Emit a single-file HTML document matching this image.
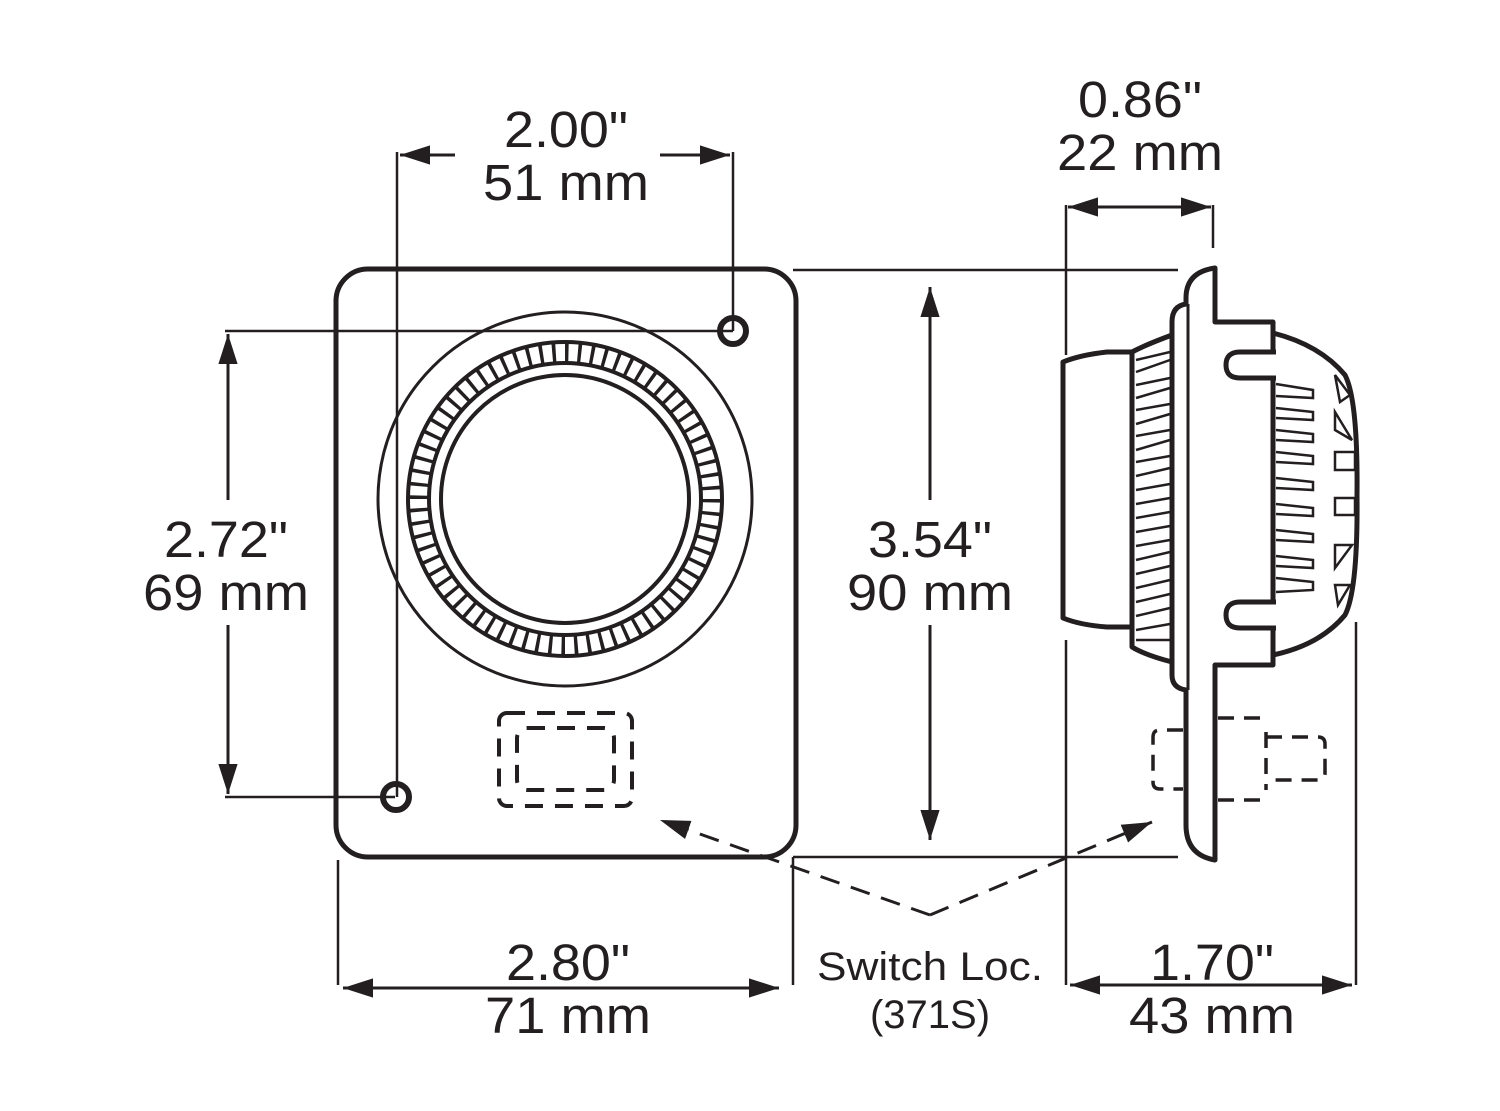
<!DOCTYPE html>
<html><head><meta charset="utf-8"><style>
html,body{margin:0;padding:0;background:#fff;}
svg{display:block}
text{font-family:"Liberation Sans",Arial,sans-serif;fill:#231f20;}
</style></head><body>
<svg width="1500" height="1111" viewBox="0 0 1500 1111" xmlns="http://www.w3.org/2000/svg">
<defs>
<marker id="ar" viewBox="0 0 10 10" refX="10" refY="5" markerWidth="30" markerHeight="30" markerUnits="userSpaceOnUse" orient="auto">
<path d="M0,1.8 L10,5 L0,8.2 Z" fill="#231f20"/></marker>
</defs>
<g stroke="#231f20" fill="none">
<rect x="336" y="269" width="460" height="588" rx="32" stroke-width="5"/>
<circle cx="733" cy="331" r="13" stroke-width="6"/>
<circle cx="396" cy="797" r="13" stroke-width="6"/>
<circle cx="565" cy="499" r="187" stroke-width="3"/>
<circle cx="565" cy="499" r="157" stroke-width="4"/>
<circle cx="565" cy="499" r="136" stroke-width="4"/>
<circle cx="565" cy="499" r="124" stroke-width="4"/>
<circle cx="565" cy="499" r="146.5" stroke-width="19" stroke-dasharray="3.5 9.28"/>
<rect x="499" y="713" width="133" height="93" rx="8" stroke-width="4" stroke-dasharray="18 12"/>
<rect x="517" y="728" width="97" height="62" rx="10" stroke-width="4" stroke-dasharray="18 12"/>

<g stroke-width="2.5">
<line x1="397" y1="152" x2="397" y2="797"/>
<line x1="733" y1="152" x2="733" y2="331"/>
<line x1="225" y1="331" x2="733" y2="331"/>
<line x1="225" y1="797" x2="395" y2="797"/>
<line x1="793" y1="270" x2="1178" y2="270"/>
<line x1="793" y1="857" x2="1178" y2="857"/>
<line x1="1066" y1="205" x2="1066" y2="355"/>
<line x1="1066" y1="640" x2="1066" y2="985"/>
<line x1="1213" y1="205" x2="1213" y2="248"/>
<line x1="338" y1="860" x2="338" y2="985"/>
<line x1="793" y1="857" x2="793" y2="985"/>
<line x1="1356" y1="622" x2="1356" y2="985"/>
</g>
<g stroke-width="3">
<line x1="455" y1="155" x2="400" y2="155" marker-end="url(#ar)"/>
<line x1="660" y1="155" x2="730" y2="155" marker-end="url(#ar)"/>
<line x1="228" y1="500" x2="228" y2="334" marker-end="url(#ar)"/>
<line x1="228" y1="625" x2="228" y2="794" marker-end="url(#ar)"/>
<line x1="930" y1="500" x2="930" y2="287" marker-end="url(#ar)"/>
<line x1="930" y1="625" x2="930" y2="840" marker-end="url(#ar)"/>
<line x1="1140" y1="207" x2="1068" y2="207" marker-end="url(#ar)"/>
<line x1="1140" y1="207" x2="1211" y2="207" marker-end="url(#ar)"/>
<line x1="560" y1="988" x2="343" y2="988" marker-end="url(#ar)"/>
<line x1="560" y1="988" x2="779" y2="988" marker-end="url(#ar)"/>
<line x1="1210" y1="985" x2="1070" y2="985" marker-end="url(#ar)"/>
<line x1="1210" y1="985" x2="1352" y2="985" marker-end="url(#ar)"/>
<line x1="930" y1="915" x2="660" y2="820" stroke-dasharray="20 12" marker-end="url(#ar)"/>
<line x1="930" y1="915" x2="1152" y2="822" stroke-dasharray="20 12" marker-end="url(#ar)"/>
</g>

<g stroke-width="5" stroke-linejoin="round">
<path d="M1215,268 L1215,322 L1273,322 L1273,665 L1215,665 L1215,860 Q1186,855 1186,825 L1186,690 Q1172,688 1172,675 L1172,322 Q1172,306 1186,304 L1186,298 Q1186,272 1215,268 Z" fill="#fff"/>
<path d="M1188,304 L1188,690" stroke-width="3"/>
<path d="M1172,335 Q1145,345 1132,352 L1132,647 Q1145,655 1172,662"/>
<path d="M1132,352 L1107,352 Q1080,355 1063,362 L1063,618 Q1080,625 1107,627 L1132,627 Z" fill="#fff"/>
<path d="M1273,333 Q1320,345 1345,375 Q1358,400 1357,495 Q1358,590 1345,615 Q1320,645 1273,655"/>
<path d="M1276,352 L1240,352 Q1226,352 1226,365 Q1226,378 1240,378 L1276,378" fill="#fff"/>
<path d="M1276,602 L1240,602 Q1226,602 1226,615 Q1226,628 1240,628 L1276,628" fill="#fff"/>
</g>
<g stroke-width="2.5">
<path d="M1136,360 L1170,352 M1136,372 L1170,360 M1136,385 L1170,378 M1136,398 L1170,388 M1136,410 L1170,404 M1136,424 L1170,414 M1136,436 L1170,430 M1136,450 L1170,440 M1136,462 L1170,456 M1136,476 L1170,468 M1136,490 L1170,484 M1136,504 L1170,498 M1136,518 L1170,512 M1136,532 L1170,526 M1136,546 L1170,540 M1136,560 L1170,552 M1136,574 L1170,566 M1136,588 L1170,580 M1136,602 L1170,594 M1136,616 L1170,608 M1136,630 L1170,624 M1136,640 L1170,640"/>
<path d="M1276,384 L1313,390 L1313,398 L1276,396 M1276,408 L1313,412 L1313,420 L1276,418 M1276,430 L1313,434 L1313,442 L1276,440 M1276,452 L1313,456 L1313,464 L1276,462 M1276,478 L1313,482 L1313,490 L1276,488 M1276,504 L1313,508 L1313,516 L1276,514 M1276,530 L1313,534 L1313,542 L1276,540 M1276,556 L1313,560 L1313,568 L1276,566 M1276,578 L1313,582 L1313,590 L1276,592"/>
<path d="M1335,375 L1350,395 L1340,402 Z M1335,412 L1352,440 L1335,430 Z M1335,452 L1355,452 L1355,470 L1335,470 Z M1335,498 L1355,498 L1355,515 L1335,515 Z M1335,545 L1352,545 L1335,568 Z M1335,585 L1350,585 L1338,605 Z"/>
</g>
<g stroke-width="3.5" stroke-dasharray="16 10">
<path d="M1183,730 L1160,730 Q1153,730 1153,737 L1153,782 Q1153,789 1160,789 L1183,789"/>
<path d="M1218,718 L1266,718 M1266,732 L1266,790 M1218,800 L1262,800"/>
<path d="M1266,737 L1318,737 Q1325,737 1325,744 L1325,773 Q1325,780 1318,780 L1266,780"/>
</g>
</g>

<g font-size="51" text-anchor="middle">
<text x="566" y="147" textLength="124" lengthAdjust="spacingAndGlyphs">2.00"</text>
<text x="566" y="200" textLength="166" lengthAdjust="spacingAndGlyphs">51 mm</text>
<text x="1140" y="117" textLength="124" lengthAdjust="spacingAndGlyphs">0.86"</text>
<text x="1140" y="170" textLength="166" lengthAdjust="spacingAndGlyphs">22 mm</text>
<text x="226" y="557" textLength="124" lengthAdjust="spacingAndGlyphs">2.72"</text>
<text x="226" y="610" textLength="166" lengthAdjust="spacingAndGlyphs">69 mm</text>
<text x="930" y="557" textLength="124" lengthAdjust="spacingAndGlyphs">3.54"</text>
<text x="930" y="610" textLength="166" lengthAdjust="spacingAndGlyphs">90 mm</text>
<text x="568" y="980" textLength="124" lengthAdjust="spacingAndGlyphs">2.80"</text>
<text x="568" y="1033" textLength="166" lengthAdjust="spacingAndGlyphs">71 mm</text>
<text x="1212" y="980" textLength="124" lengthAdjust="spacingAndGlyphs">1.70"</text>
<text x="1212" y="1033" textLength="166" lengthAdjust="spacingAndGlyphs">43 mm</text>
</g>
<g font-size="40" text-anchor="middle">
<text x="930" y="980" textLength="226" lengthAdjust="spacingAndGlyphs">Switch Loc.</text>
<text x="930" y="1028">(371S)</text>
</g>
</svg>
</body></html>
